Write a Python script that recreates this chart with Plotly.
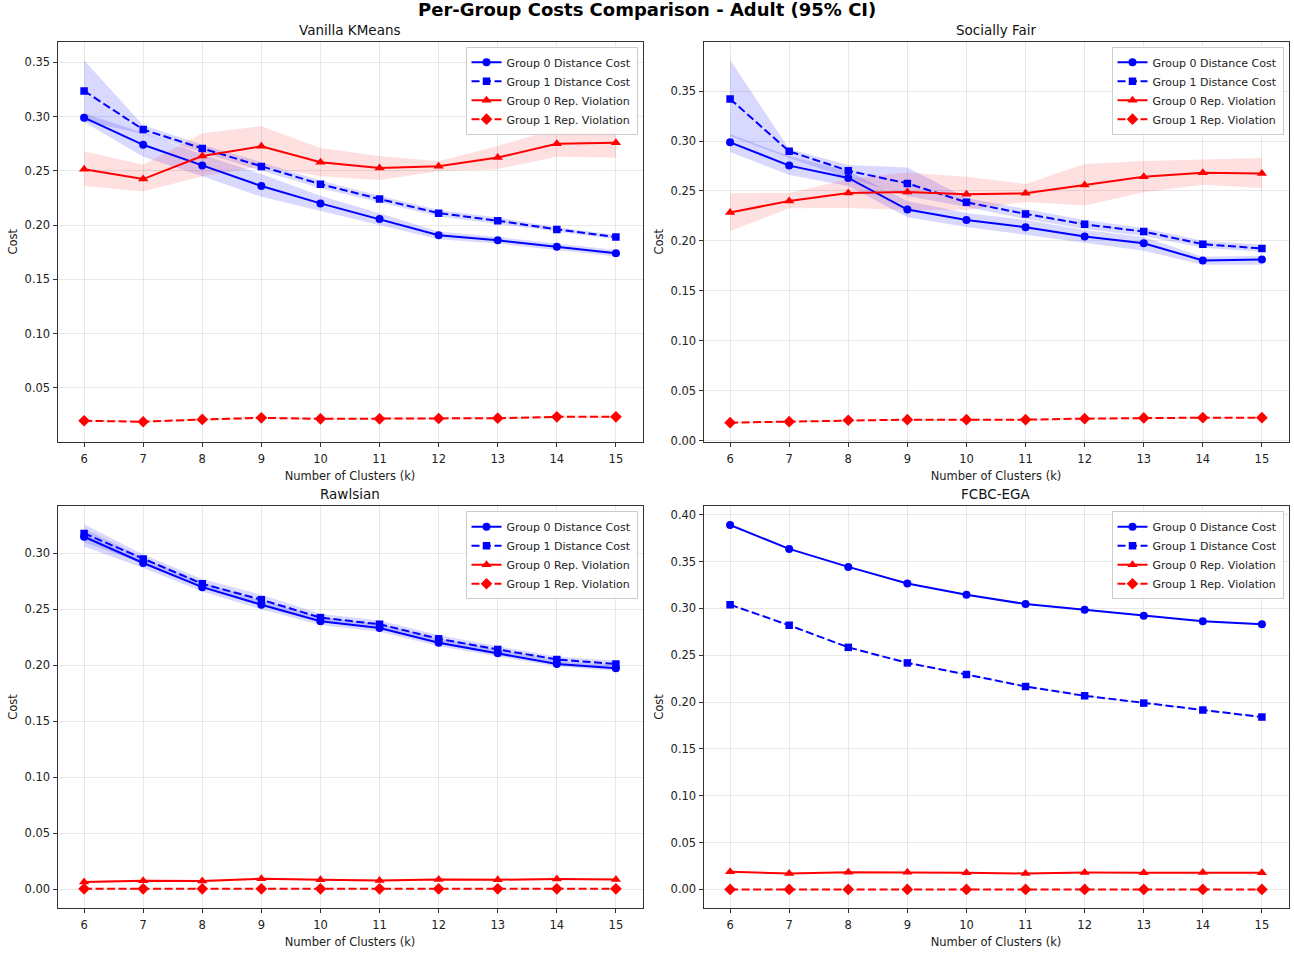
import plotly.graph_objects as go

k = [6, 7, 8, 9, 10, 11, 12, 13, 14, 15]

panel_titles = ["Vanilla KMeans", "Socially Fair", "Rawlsian", "FCBC-EGA"]
series_names = ["Group 0 Distance Cost", "Group 1 Distance Cost",
                "Group 0 Rep. Violation", "Group 1 Rep. Violation"]

# ---- Vanilla KMeans ----
vk_g0_dist = [0.299, 0.274, 0.255, 0.236, 0.220, 0.2057, 0.1907, 0.1859, 0.180, 0.174]
vk_g0_dist_lo = [0.295, 0.263, 0.245, 0.226, 0.213, 0.200, 0.187, 0.183, 0.177, 0.171]
vk_g0_dist_hi = [0.303, 0.285, 0.265, 0.247, 0.227, 0.211, 0.194, 0.189, 0.183, 0.177]
vk_g1_dist = [0.3237, 0.288, 0.2707, 0.254, 0.2377, 0.224, 0.211, 0.204, 0.196, 0.189]
vk_g1_dist_lo = [0.296, 0.284, 0.267, 0.250, 0.234, 0.221, 0.208, 0.201, 0.194, 0.187]
vk_g1_dist_hi = [0.352, 0.292, 0.274, 0.258, 0.241, 0.227, 0.214, 0.207, 0.198, 0.191]
vk_g0_rep = [0.2515, 0.2424, 0.2637, 0.2726, 0.258, 0.2525, 0.2543, 0.2622, 0.275, 0.276]
vk_g0_rep_lo = [0.236, 0.231, 0.245, 0.254, 0.245, 0.2415, 0.2497, 0.2515, 0.263, 0.262]
vk_g0_rep_hi = [0.268, 0.2557, 0.2846, 0.2912, 0.271, 0.2637, 0.2588, 0.273, 0.2888, 0.290]
vk_g1_rep = [0.0196, 0.0187, 0.0208, 0.0223, 0.0214, 0.0214, 0.0217, 0.0220, 0.0232, 0.0232]
vk_g1_rep_lo = [0.0186, 0.0177, 0.0196, 0.0212, 0.0204, 0.0204, 0.0207, 0.0210, 0.0222, 0.0222]
vk_g1_rep_hi = [0.0206, 0.0197, 0.0220, 0.0234, 0.0224, 0.0224, 0.0227, 0.0230, 0.0242, 0.0242]

# ---- Socially Fair ----
sf_g0_dist = [0.2987, 0.2754, 0.263, 0.2314, 0.221, 0.2136, 0.2043, 0.1977, 0.1804, 0.1814]
sf_g0_dist_lo = [0.289, 0.266, 0.255, 0.2236, 0.214, 0.206, 0.198, 0.190, 0.176, 0.176]
sf_g0_dist_hi = [0.307, 0.285, 0.270, 0.240, 0.228, 0.221, 0.211, 0.204, 0.184, 0.185]
sf_g1_dist = [0.3422, 0.2897, 0.2703, 0.2576, 0.2387, 0.227, 0.2166, 0.2093, 0.1967, 0.1924]
sf_g1_dist_lo = [0.305, 0.283, 0.263, 0.245, 0.234, 0.222, 0.212, 0.205, 0.193, 0.189]
sf_g1_dist_hi = [0.3815, 0.292, 0.276, 0.2736, 0.243, 0.232, 0.221, 0.213, 0.200, 0.196]
sf_g0_rep = [0.2284, 0.240, 0.248, 0.249, 0.2467, 0.2477, 0.256, 0.2643, 0.2683, 0.2676]
sf_g0_rep_lo = [0.2098, 0.2327, 0.233, 0.231, 0.231, 0.239, 0.2355, 0.2487, 0.2563, 0.253]
sf_g0_rep_hi = [0.2477, 0.248, 0.262, 0.2686, 0.2643, 0.257, 0.277, 0.280, 0.2815, 0.283]
sf_g1_rep = [0.0179, 0.0189, 0.0203, 0.0209, 0.0209, 0.0209, 0.0219, 0.0226, 0.0229, 0.0229]
sf_g1_rep_lo = [0.0169, 0.0179, 0.0193, 0.0199, 0.0199, 0.0199, 0.0209, 0.0216, 0.0219, 0.0219]
sf_g1_rep_hi = [0.0189, 0.0199, 0.0213, 0.0219, 0.0219, 0.0219, 0.0229, 0.0236, 0.0239, 0.0239]

# ---- Rawlsian ----
rw_g0_dist = [0.3148, 0.2914, 0.2698, 0.2541, 0.2393, 0.2334, 0.2201, 0.2107, 0.2012, 0.1973]
rw_g0_dist_lo = [0.306, 0.287, 0.266, 0.250, 0.236, 0.230, 0.217, 0.208, 0.199, 0.195]
rw_g0_dist_hi = [0.322, 0.296, 0.274, 0.258, 0.243, 0.237, 0.224, 0.214, 0.204, 0.200]
rw_g1_dist = [0.3178, 0.295, 0.2728, 0.2586, 0.2426, 0.2367, 0.2237, 0.2142, 0.2053, 0.2012]
rw_g1_dist_lo = [0.310, 0.291, 0.269, 0.254, 0.239, 0.233, 0.220, 0.211, 0.202, 0.198]
rw_g1_dist_hi = [0.326, 0.299, 0.277, 0.263, 0.246, 0.240, 0.227, 0.217, 0.208, 0.204]
rw_g0_rep = [0.0065, 0.0077, 0.0074, 0.0095, 0.0086, 0.0080, 0.0089, 0.0086, 0.0092, 0.0089]
rw_g0_rep_lo = [0.0055, 0.0067, 0.0064, 0.0085, 0.0076, 0.0070, 0.0079, 0.0076, 0.0082, 0.0079]
rw_g0_rep_hi = [0.0075, 0.0087, 0.0084, 0.0105, 0.0096, 0.0090, 0.0099, 0.0096, 0.0102, 0.0099]
rw_g1_rep = [0.0005, 0.0005, 0.0005, 0.0005, 0.0005, 0.0005, 0.0005, 0.0005, 0.0005, 0.0005]
rw_g1_rep_lo = [0.0003, 0.0003, 0.0003, 0.0003, 0.0003, 0.0003, 0.0003, 0.0003, 0.0003, 0.0003]
rw_g1_rep_hi = [0.0007, 0.0007, 0.0007, 0.0007, 0.0007, 0.0007, 0.0007, 0.0007, 0.0007, 0.0007]

# ---- FCBC-EGA ----
fc_g0_dist = [0.389, 0.3635, 0.3443, 0.3266, 0.3146, 0.3046, 0.2986, 0.2922, 0.2862, 0.283]
fc_g0_dist_lo = [0.3885, 0.363, 0.3438, 0.3261, 0.3141, 0.3041, 0.2981, 0.2917, 0.2857, 0.2825]
fc_g0_dist_hi = [0.3895, 0.364, 0.3448, 0.3271, 0.3151, 0.3051, 0.2991, 0.2927, 0.2867, 0.2835]
fc_g1_dist = [0.3039, 0.282, 0.2584, 0.2418, 0.2294, 0.2166, 0.2067, 0.1989, 0.1915, 0.184]
fc_g1_dist_lo = [0.3034, 0.2815, 0.2579, 0.2413, 0.2289, 0.2161, 0.2062, 0.1984, 0.1910, 0.1835]
fc_g1_dist_hi = [0.3044, 0.2825, 0.2589, 0.2423, 0.2299, 0.2171, 0.2072, 0.1994, 0.1920, 0.1845]
fc_g0_rep = [0.0188, 0.0170, 0.0184, 0.0184, 0.0177, 0.0170, 0.0180, 0.0177, 0.0180, 0.0177]
fc_g0_rep_lo = [0.0183, 0.0165, 0.0179, 0.0179, 0.0172, 0.0165, 0.0175, 0.0172, 0.0175, 0.0172]
fc_g0_rep_hi = [0.0193, 0.0175, 0.0189, 0.0189, 0.0182, 0.0175, 0.0185, 0.0182, 0.0185, 0.0182]
fc_g1_rep = [0.0, 0.0, 0.0, 0.0, 0.0, 0.0, 0.0, 0.0, 0.0, 0.0]
fc_g1_rep_lo = [0.0, 0.0, 0.0, 0.0, 0.0, 0.0, 0.0, 0.0, 0.0, 0.0]
fc_g1_rep_hi = [0.0, 0.0, 0.0, 0.0, 0.0, 0.0, 0.0, 0.0, 0.0, 0.0]

panels = [
    [(vk_g0_dist, vk_g0_dist_lo, vk_g0_dist_hi), (vk_g1_dist, vk_g1_dist_lo, vk_g1_dist_hi),
     (vk_g0_rep, vk_g0_rep_lo, vk_g0_rep_hi), (vk_g1_rep, vk_g1_rep_lo, vk_g1_rep_hi)],
    [(sf_g0_dist, sf_g0_dist_lo, sf_g0_dist_hi), (sf_g1_dist, sf_g1_dist_lo, sf_g1_dist_hi),
     (sf_g0_rep, sf_g0_rep_lo, sf_g0_rep_hi), (sf_g1_rep, sf_g1_rep_lo, sf_g1_rep_hi)],
    [(rw_g0_dist, rw_g0_dist_lo, rw_g0_dist_hi), (rw_g1_dist, rw_g1_dist_lo, rw_g1_dist_hi),
     (rw_g0_rep, rw_g0_rep_lo, rw_g0_rep_hi), (rw_g1_rep, rw_g1_rep_lo, rw_g1_rep_hi)],
    [(fc_g0_dist, fc_g0_dist_lo, fc_g0_dist_hi), (fc_g1_dist, fc_g1_dist_lo, fc_g1_dist_hi),
     (fc_g0_rep, fc_g0_rep_lo, fc_g0_rep_hi), (fc_g1_rep, fc_g1_rep_lo, fc_g1_rep_hi)],
]

W, H = 1294, 953
FONT = "DejaVu Sans, Liberation Sans, sans-serif"

# pixel boxes of each panel: (left, right, top, bottom)
boxes = [(57.5, 642.5, 42, 444.5), (703.5, 1288.5, 42, 444.5),
         (57.5, 642.5, 509.5, 913.5), (703.5, 1288.5, 509.5, 913.5)]
yranges = [[0.0003, 0.369], [-0.0012, 0.3995], [-0.0164, 0.342], [-0.0196, 0.409]]

styles = [
    dict(color="#0000ff", dash="solid", symbol="circle", fill="rgba(0,0,255,0.15)", size=8),
    dict(color="#0000ff", dash="8px,3.5px", symbol="square", fill="rgba(0,0,255,0.15)", size=7.5),
    dict(color="#ff0000", dash="solid", symbol="triangle-up", fill="rgba(255,0,0,0.12)", size=9),
    dict(color="#ff0000", dash="8px,3.5px", symbol="diamond", fill="rgba(255,0,0,0.12)", size=9),
]

fig = go.Figure()
layout = dict(width=W, height=H, margin=dict(l=0, r=0, t=0, b=0),
              paper_bgcolor="white", plot_bgcolor="white",
              font=dict(family=FONT, size=11, color="#222"))
annotations = []

for p in range(4):
    l, r, t, b = boxes[p]
    xd = [l / W, r / W]
    yd = [1 - b / H, 1 - t / H]
    ax = "" if p == 0 else str(p + 1)
    xname, yname = "xaxis" + ax, "yaxis" + ax
    xref, yref = "x" + ax, "y" + ax
    leg = "legend" if p == 0 else "legend" + str(p + 1)

    # CI bands
    for s in range(4):
        mean, lo, hi = panels[p][s]
        fig.add_trace(go.Scatter(
            x=k + k[::-1], y=hi + lo[::-1], fill="toself", fillcolor=styles[s]["fill"],
            line=dict(width=0), mode="lines", hoverinfo="skip", showlegend=False,
            xaxis=xref, yaxis=yref))
    # lines
    for s in range(4):
        mean, lo, hi = panels[p][s]
        st = styles[s]
        fig.add_trace(go.Scatter(
            x=k, y=mean, mode="lines+markers", name=series_names[s],
            line=dict(color=st["color"], width=2, dash=st["dash"]),
            marker=dict(symbol=st["symbol"], size=st["size"], color=st["color"]),
            xaxis=xref, yaxis=yref, legend=leg))

    layout[xname] = dict(domain=xd, range=[5.55, 15.45], anchor=yref,
                         tickmode="array", tickvals=k, ticktext=[str(v) for v in k],
                         showgrid=True, gridcolor="rgba(0,0,0,0.09)", gridwidth=1,
                         showline=True, linecolor="#333", linewidth=1, mirror=True,
                         ticks="outside", ticklen=4, tickcolor="#333",
                         ticklabelstandoff=2,
                         tickfont=dict(size=11.5, color="#222"), zeroline=False,
                         title=dict(text="Number of Clusters (k)", font=dict(size=11.5, color="#222"),
                                    standoff=7))
    layout[yname] = dict(domain=yd, range=yranges[p], anchor=xref,
                         tickformat=".2f", dtick=0.05, tick0=0,
                         showgrid=True, gridcolor="rgba(0,0,0,0.09)", gridwidth=1,
                         showline=True, linecolor="#333", linewidth=1, mirror=True,
                         ticks="outside", ticklen=4, tickcolor="#333",
                         tickfont=dict(size=11.5, color="#222"), zeroline=False,
                         title=dict(text="Cost", font=dict(size=11.5, color="#222"), standoff=4))
    layout[leg] = dict(x=(r - 5) / W, y=1 - (t + 5) / H, xanchor="right", yanchor="top",
                       xref="paper", yref="paper",
                       bgcolor="rgba(255,255,255,0.85)", bordercolor="#cccccc", borderwidth=1,
                       font=dict(size=11, color="#222"), itemwidth=30,
                       tracegroupgap=0)
    annotations.append(dict(text=panel_titles[p], x=(l + r) / 2 / W, y=1 - (t - 12) / H,
                            xref="paper", yref="paper", xanchor="center", yanchor="middle",
                            showarrow=False, font=dict(size=13.5, color="#111")))

annotations.append(dict(text="<b>Per-Group Costs Comparison - Adult (95% CI)</b>",
                        x=0.5, y=1 - 10 / H, xref="paper", yref="paper",
                        xanchor="center", yanchor="middle", showarrow=False,
                        font=dict(size=18, color="#000")))
layout["annotations"] = annotations
fig.update_layout(**layout)

fig.write_html("out.html")
